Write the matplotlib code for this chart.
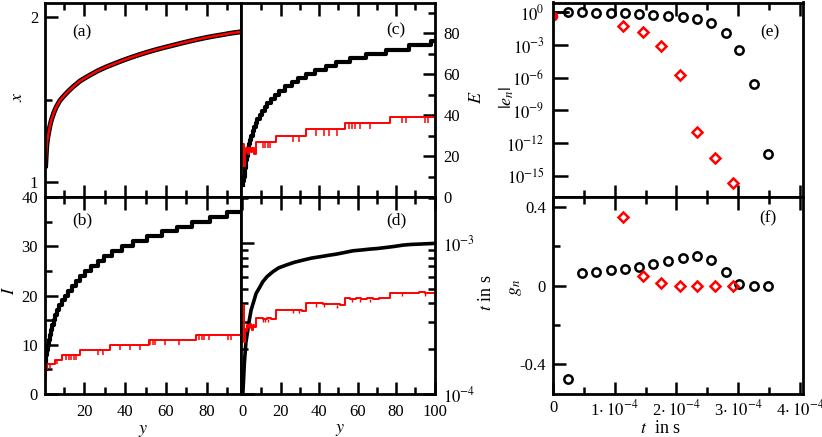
import numpy as np
import matplotlib
matplotlib.use("Agg")
import matplotlib.pyplot as plt
from matplotlib.ticker import FixedLocator, NullFormatter, FixedFormatter, NullLocator

plt.rcParams['font.family'] = ['Liberation Serif', 'DejaVu Serif']
plt.rcParams['mathtext.fontset'] = 'stix'

# ---------------- data ----------------
# (a) x versus y (both runs overlap)
a_y = [1.0, 1.3, 1.6, 2.1, 3.0, 3.8, 5.0, 6.2, 8.0, 9.5, 12.0, 14.4, 18.0, 22.5, 26.5,
       30.7, 35.0, 38.9, 43.0, 47.1, 51.0, 55.2, 59.5, 63.4, 67.5, 71.6, 75.5, 79.7,
       84.0, 87.9, 92.0, 96.1, 100.0]
a_x = [1.10, 1.17, 1.23, 1.275, 1.335, 1.376, 1.42, 1.456, 1.495, 1.517, 1.55, 1.578,
       1.615, 1.648, 1.675, 1.699, 1.72, 1.739, 1.757, 1.774, 1.789, 1.804, 1.818,
       1.830, 1.843, 1.855, 1.866, 1.877, 1.887, 1.895, 1.904, 1.911, 1.918]

# (b) I versus y
b_blk_y = [1.0, 1.1, 1.2, 1.3, 1.7, 2.1, 2.6, 3.1, 3.6, 4.3, 5.0, 5.6, 6.4, 7.6, 8.9,
           10.4, 12.1, 13.9, 15.9, 18.0, 20.5, 23.3, 26.5, 29.5, 33.5, 38.5, 44.0,
           50.5, 58.0, 65.5, 73.0, 81.5, 90.0, 100.0]
b_blk_I = [5, 6, 7, 8, 9, 10, 11, 12, 13, 14, 15, 16, 17, 18, 19, 20, 21, 22, 23, 24,
           25, 26, 27, 28, 29, 30, 31, 32, 33, 34, 35, 36, 37, 38]
b_red_y = [1.0, 1.2, 1.9, 5.6, 8.9, 17.9, 32.8, 51.7, 74.8, 100.0]
b_red_I = [3, 5, 6, 7, 8, 9, 10, 11, 12, 12]
b_dip_y = [3.0, 6.5, 11.1, 12.4, 13.6, 14.9, 16.0, 26.6, 29.1, 37.3, 42.2, 47.1, 52.3,
           53.5, 54.6, 59.5, 66.5, 76.4, 77.6, 78.8, 81.0, 90.5, 92.0]
b_dip_lo = [5, 6, 7, 7, 7, 7, 7, 8, 8, 9, 9, 9, 10, 10, 10, 10, 10, 11, 11, 11, 11, 11, 11]
b_dip_hi = [6, 7, 8, 8, 8, 8, 8, 9, 9, 10, 10, 10, 11, 11, 11, 11, 11, 12, 12, 12, 12, 12, 12]

# (c) E versus y
c_blk_y = [0.5, 0.7, 1.0, 1.3, 1.6, 1.85, 2.1, 2.5, 2.9, 3.3, 3.8, 4.3, 4.9, 5.6, 6.3,
           7.1, 8.0, 9.1, 10.2, 11.7, 13.2, 14.9, 17.0, 19.2, 22.3, 25.7, 29.0, 33.0,
           38.0, 43.5, 49.0, 56.0, 64.5, 75.0, 86.5, 98.0, 100.0]
c_blk_E = [6, 8, 10, 12, 14, 16, 18, 20, 22, 24, 26, 28, 30, 32, 34, 36, 38, 40, 42, 44,
           46, 48, 50, 52, 54, 56, 58, 60, 62, 64, 66, 68, 70, 72, 74, 76, 76]
c_red_y = [0.5, 0.9, 1.3, 2.2, 3.0, 3.6, 4.4, 5.2, 6.0, 7.3, 17.7, 33.3, 53.3, 76.7, 100.0]
c_red_E = [26, 15, 22, 24, 21, 24, 22, 24, 21, 27, 30, 33, 36, 39, 39]
c_dip_y = [10.7, 12.1, 13.3, 14.7, 26.2, 29.6, 38.3, 42.6, 45.2, 49.5, 55.5, 57.2, 58.9,
           61.5, 66.7, 83.1, 85.2, 94.8, 96.6]
c_dip_lo = [24, 24, 24, 24, 27, 27, 30, 30, 30, 30, 33, 33, 33, 33, 33, 36, 36, 36, 36]
c_dip_hi = [27, 27, 27, 27, 30, 30, 33, 33, 33, 33, 36, 36, 36, 36, 36, 39, 39, 39, 39]

# (d) t in s versus y
d_blk_y = [0.4, 0.8, 1.2, 2.0, 3.0, 3.8, 4.7, 5.8, 7.3, 8.8, 10.8, 13.0, 16.0, 19.0, 22.9,
           27.0, 31.6, 36.0, 40.3, 45.0, 49.0, 53.0, 57.6, 62.0, 66.3, 70.0, 75.0, 79.0,
           83.7, 88.0, 92.4, 96.0, 100.0]
d_blk_t = [1.0e-4, 1.25e-4, 1.6e-4, 2.2e-4, 2.65e-4, 3.1e-4, 3.6e-4, 4.0e-4, 4.64e-4,
           5.0e-4, 5.55e-4, 6.0e-4, 6.46e-4, 6.85e-4, 7.15e-4, 7.45e-4, 7.71e-4, 7.95e-4,
           8.11e-4, 8.3e-4, 8.45e-4, 8.65e-4, 8.89e-4, 9.0e-4, 9.12e-4, 9.2e-4, 9.36e-4,
           9.5e-4, 9.7e-4, 9.8e-4, 9.85e-4, 9.9e-4, 9.95e-4]
d_red_y = [0.5, 0.9, 1.3, 2.2, 2.8, 3.4, 4.0, 4.6, 5.2, 5.8, 6.4, 7.3, 9.0, 11.0, 13.0,
           15.0, 17.7, 20.0, 23.0, 26.0, 29.0, 31.0, 33.3, 36.0, 39.0, 42.0, 45.0, 48.0,
           51.0, 53.3, 56.0, 59.0, 62.0, 65.0, 68.0, 71.0, 74.0, 76.7, 80.0, 83.0, 86.0,
           89.0, 92.0, 95.0, 98.0, 100.0]
d_red_t = [3.9e-4, 2.2e-4, 2.7e-4, 2.6e-4, 2.85e-4, 2.75e-4, 2.9e-4, 2.8e-4, 2.65e-4,
           2.85e-4, 2.8e-4, 3.17e-4, 3.2e-4, 3.15e-4, 3.18e-4, 3.14e-4, 3.6e-4, 3.62e-4,
           3.58e-4, 3.6e-4, 3.63e-4, 3.57e-4, 4.03e-4, 4.0e-4, 3.98e-4, 3.96e-4, 3.94e-4,
           3.92e-4, 3.9e-4, 4.3e-4, 4.28e-4, 4.3e-4, 4.26e-4, 4.3e-4, 4.28e-4, 4.32e-4,
           4.3e-4, 4.69e-4, 4.66e-4, 4.7e-4, 4.65e-4, 4.68e-4, 4.72e-4, 4.66e-4, 4.7e-4,
           4.68e-4]
d_dip_y = [10.7, 12.1, 13.3, 26.2, 29.6, 38.3, 42.6, 49.5, 57.2, 61.5, 66.7, 83.1, 94.8]
d_dip_lo = [3.0e-4, 3.0e-4, 3.0e-4, 3.42e-4, 3.42e-4, 3.78e-4, 3.78e-4, 3.72e-4, 4.1e-4,
            4.1e-4, 4.1e-4, 4.45e-4, 4.45e-4]
d_dip_hi = [3.17e-4, 3.2e-4, 3.15e-4, 3.6e-4, 3.63e-4, 3.98e-4, 3.96e-4, 3.9e-4, 4.3e-4,
            4.26e-4, 4.28e-4, 4.7e-4, 4.66e-4]

# (e), (f) coefficients versus t
t_blk = [0.248e-4, 0.465e-4, 0.697e-4, 0.935e-4, 1.167e-4, 1.399e-4, 1.626e-4, 1.869e-4,
         2.102e-4, 2.329e-4, 2.561e-4, 2.799e-4, 3.02e-4, 3.26e-4, 3.49e-4]
e_blk = [1.0, 1.0, 0.93, 0.93, 0.81, 0.70, 0.56, 0.46, 0.40, 0.22, 0.098, 0.0135,
         3.5e-4, 2.5e-7, 9.8e-14]
g_blk = [-0.475, 0.064, 0.069, 0.078, 0.085, 0.095, 0.112, 0.124, 0.142, 0.153, 0.132,
         0.069, 0.010, -0.003, -0.003]
t_red = [1.135e-4, 1.45e-4, 1.75e-4, 2.05e-4, 2.34e-4, 2.63e-4, 2.91e-4]
e_red = [0.059, 0.017, 8.1e-4, 1.9e-6, 1.1e-11, 3.9e-14, 1.96e-16]
g_red = [0.347, 0.047, 0.014, 0.0, 0.0, 0.0, 0.0]
t_start = 0.0
e_blk_start = 1.0
e_red_start = 0.49

# ---------------- figure ----------------
W, H = 822, 437
fig = plt.figure(figsize=(W / 100, H / 100), dpi=100)


def add(l, r, t, b):
    return fig.add_axes([l / W, 1 - b / H, (r - l) / W, (b - t) / H])


axA = add(45, 240.7, 2.5, 197)
axB = add(45, 240.7, 197, 394)
axC = add(240.7, 435, 2.5, 197)
axD = add(240.7, 435, 197, 394)
axE = add(553, 803, 2.5, 197)
axF = add(553, 803, 197, 394)

FS = 12
for ax in (axA, axB, axC, axD, axE, axF):
    for s in ax.spines.values():
        s.set_linewidth(2.0)
    ax.tick_params(which='both', direction='in', width=1.8, labelsize=FS)
    ax.tick_params(which='major', length=9)
    ax.tick_params(which='minor', length=5)

BLK = 'black'
RED = '#ff0000'

# (a)
axA.plot(a_y, a_x, color=BLK, lw=3.6)
axA.plot(a_y, a_x, color=RED, lw=1.8)
axA.set_xlim(0.7, 96.7)
axA.set_ylim(0.91, 2.09)
axA.yaxis.set_major_locator(FixedLocator([1, 2]))
axA.yaxis.set_minor_locator(FixedLocator([1.5]))
axA.set_yticklabels(['1', '2'])
axA.tick_params(axis='y', which='both', left=True, right=False, pad=5)
axA.tick_params(axis='x', which='both', top=True, bottom=True, labelbottom=False)
axA.xaxis.set_major_locator(FixedLocator([20, 40, 60, 80]))
axA.xaxis.set_minor_locator(FixedLocator([10, 30, 50, 70, 90]))
axA.text(0.19, 0.846, '(a)', transform=axA.transAxes, ha='center', va='center', fontsize=12.5)
axA.text(-0.143, 0.513, '$x$', transform=axA.transAxes, ha='center', va='center',
         rotation=90, fontsize=13)

# (b)
axB.step(b_blk_y, b_blk_I, where='post', color=BLK, lw=3.0)
axB.step(b_red_y, b_red_I, where='post', color=RED, lw=1.4)
axB.vlines(b_dip_y, b_dip_lo, b_dip_hi, color=RED, lw=1.1)
axB.set_xlim(0.7, 96.7)
axB.set_ylim(0, 40)
axB.yaxis.set_major_locator(FixedLocator([0, 10, 20, 30, 40]))
axB.yaxis.set_minor_locator(FixedLocator([5, 15, 25, 35]))
axB.tick_params(axis='y', which='both', left=True, right=False, pad=5)
axB.xaxis.set_major_locator(FixedLocator([20, 40, 60, 80]))
axB.xaxis.set_minor_locator(FixedLocator([10, 30, 50, 70, 90]))
axB.tick_params(axis='x', which='both', top=True, bottom=True, pad=7)
axB.text(0.19, 0.883, '(b)', transform=axB.transAxes, ha='center', va='center', fontsize=12.5)
axB.text(-0.179, 0.528, '$I$', transform=axB.transAxes, ha='center', va='center',
         rotation=90, fontsize=13)
axB.text(0.5, -0.183, '$y$', transform=axB.transAxes, ha='center', va='center', fontsize=13)

# (c)
axC.step(c_blk_y, c_blk_E, where='post', color=BLK, lw=3.0)
axC.step(c_red_y, c_red_E, where='post', color=RED, lw=1.4)
axC.vlines(c_dip_y, c_dip_lo, c_dip_hi, color=RED, lw=1.1)
axC.set_xlim(-0.7, 100.2)
axC.set_ylim(0, 95)
axC.yaxis.set_major_locator(FixedLocator([0, 20, 40, 60, 80]))
axC.yaxis.set_minor_locator(FixedLocator([10, 30, 50, 70, 90]))
axC.tick_params(axis='y', which='both', left=False, right=True, labelleft=False,
                labelright=True, pad=6)
axC.xaxis.set_major_locator(FixedLocator([20, 40, 60, 80]))
axC.xaxis.set_minor_locator(FixedLocator([10, 30, 50, 70, 90]))
axC.tick_params(axis='x', which='both', top=True, bottom=True, labelbottom=False)
axC.text(0.80, 0.856, '(c)', transform=axC.transAxes, ha='center', va='center', fontsize=12.5)
axC.text(1.215, 0.514, '$E$', transform=axC.transAxes, ha='center', va='center',
         rotation=90, fontsize=13)

# (d)
axD.plot(d_blk_y, d_blk_t, color=BLK, lw=2.6)
axD.step(d_red_y, d_red_t, where='post', color=RED, lw=1.4)
axD.vlines(d_dip_y, d_dip_lo, d_dip_hi, color=RED, lw=1.0)
axD.set_yscale('log')
axD.set_xlim(-0.7, 100.2)
axD.set_ylim(1e-4, 2.02e-3)
axD.yaxis.set_major_locator(FixedLocator([1e-4, 1e-3]))
axD.yaxis.set_major_formatter(FixedFormatter(['$10^{-4}$', '$10^{-3}$']))
axD.yaxis.set_minor_locator(FixedLocator([2e-4, 3e-4, 4e-4, 5e-4, 6e-4, 7e-4, 8e-4, 9e-4, 2e-3]))
axD.yaxis.set_minor_formatter(NullFormatter())
axD.tick_params(axis='y', which='both', left=True, right=True, labelleft=False,
                labelright=True, pad=6)
axD.xaxis.set_major_locator(FixedLocator([0, 20, 40, 60, 80, 100]))
axD.xaxis.set_minor_locator(FixedLocator([10, 30, 50, 70, 90]))
axD.tick_params(axis='x', which='both', top=True, bottom=True, pad=7)
axD.text(0.80, 0.883, '(d)', transform=axD.transAxes, ha='center', va='center', fontsize=12.5)
axD.text(1.266, 0.513, '$t$ in s', transform=axD.transAxes, ha='center', va='center',
         rotation=90, fontsize=13)
axD.text(0.511, -0.18, '$y$', transform=axD.transAxes, ha='center', va='center', fontsize=13)

# (e)
axE.plot([t_start, t_blk[0]], [e_blk_start, e_blk[0]], color=BLK, lw=1.8)
axE.plot([t_start], [e_red_start], 'o', color=RED, ms=6)
axE.plot(t_blk, e_blk, 'o', mfc='none', mec=BLK, mew=1.8, ms=6, ls='none')
axE.plot(t_red, e_red, 'D', mfc='none', mec=RED, mew=1.8, ms=4.6, ls='none')
axE.set_yscale('log')
axE.set_xlim(0, 4.05e-4)
axE.set_ylim(1.1e-17, 8)
exps = [0, -3, -6, -9, -12, -15]
axE.yaxis.set_major_locator(FixedLocator([10.0 ** k for k in exps]))
axE.yaxis.set_major_formatter(FixedFormatter(['$10^{%d}$' % k for k in exps]))
axE.yaxis.set_minor_locator(NullLocator())
axE.tick_params(axis='y', which='major', length=11, left=True, right=False, pad=6)
axE.xaxis.set_major_locator(FixedLocator([1e-4, 2e-4, 3e-4, 4e-4]))
axE.xaxis.set_minor_locator(FixedLocator([0.5e-4, 1.5e-4, 2.5e-4, 3.5e-4]))
axE.tick_params(axis='x', which='both', top=True, bottom=True, labelbottom=False)
axE.text(0.868, 0.848, '(e)', transform=axE.transAxes, ha='center', va='center', fontsize=12.5)
axE.text(-0.185, 0.514, '$|e_n|$', transform=axE.transAxes, ha='center', va='center',
         rotation=90, fontsize=13)

# (f)
axF.plot(t_blk, g_blk, 'o', mfc='none', mec=BLK, mew=1.8, ms=6, ls='none')
axF.plot(t_red, g_red, 'D', mfc='none', mec=RED, mew=1.8, ms=4.6, ls='none')
axF.set_xlim(0, 4.05e-4)
axF.set_ylim(-0.55, 0.45)
axF.yaxis.set_major_locator(FixedLocator([-0.4, 0, 0.4]))
axF.yaxis.set_major_formatter(FixedFormatter(['-0.4', '0', '0.4']))
axF.yaxis.set_minor_locator(FixedLocator([-0.2, 0.2]))
axF.tick_params(axis='y', which='both', left=True, right=False, pad=5)
axF.xaxis.set_major_locator(FixedLocator([0, 1e-4, 2e-4, 3e-4, 4e-4]))
axF.xaxis.set_major_formatter(FixedFormatter(['0', '1$\\cdot\\;10^{-4}$', '2$\\cdot\\;10^{-4}$',
                                              '3$\\cdot\\;10^{-4}$', '4$\\cdot\\;10^{-4}$']))
axF.xaxis.set_minor_locator(FixedLocator([0.5e-4, 1.5e-4, 2.5e-4, 3.5e-4]))
axF.tick_params(axis='x', which='both', top=True, bottom=True, pad=4)
axF.text(0.86, 0.893, '(f)', transform=axF.transAxes, ha='center', va='center', fontsize=12.5)
axF.text(-0.152, 0.543, '$g_n$', transform=axF.transAxes, ha='center', va='center',
         rotation=90, fontsize=13)
axF.text(0.428, -0.174, '$t$  in s', transform=axF.transAxes, ha='center', va='center',
         fontsize=13)

fig.savefig('out.png', dpi=100)
